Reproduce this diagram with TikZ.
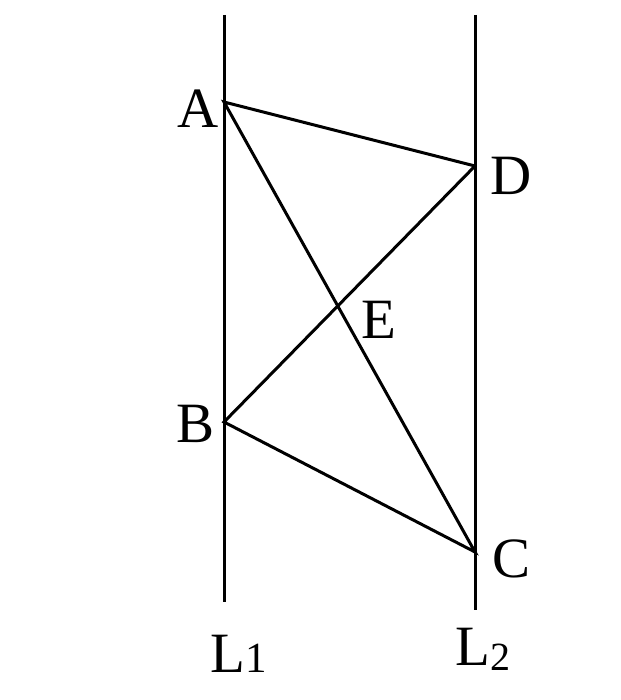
\documentclass[tikz,border=0pt]{standalone}
\usepackage{fontspec}
\setmainfont{Liberation Serif}
\begin{document}
\begin{tikzpicture}[x=1pt,y=-1pt,
  seg/.style={line width=3pt},
  lbl/.style={inner sep=0pt,anchor=base west,font=\fontsize{57}{57}\selectfont}]
\useasboundingbox (0,0) rectangle (620,700);
\coordinate (L1t) at (224,15);
\coordinate (L1b) at (224,602);
\coordinate (L2t) at (475,15);
\coordinate (L2b) at (475,610);
\coordinate (A) at (224,102);
\coordinate (D) at (475,166);
\coordinate (B) at (224,422);
\coordinate (C) at (475,552);
\draw[seg] (L1t) -- (L1b);
\draw[seg] (L2t) -- (L2b);
\draw[seg,line join=miter] (D) -- (A) -- (C) -- (B) -- (D);
\node[lbl] (lA) at (177,128) {A};
\node[lbl] (lD) at (490,195) {D};
\node[lbl] (lB) at (176,442) {B};
\node[lbl] (lC) at (492,577) {C};
\node[lbl] (lE) at (361,338) {E};
\node[lbl] (lL1) at (210,672) {L{\fontsize{43}{43}\selectfont 1}};
\node[lbl] (lL2) at (455,665) {L\raisebox{-5pt}{\fontsize{40}{40}\selectfont 2}};
\end{tikzpicture}
\end{document}
